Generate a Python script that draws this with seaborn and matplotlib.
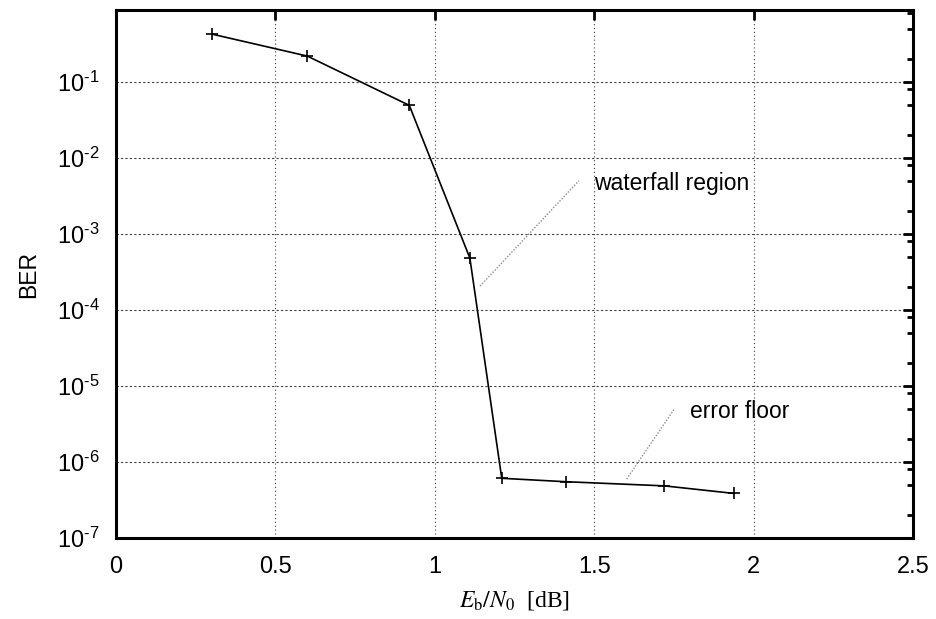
import numpy as np
import pandas as pd
import matplotlib
matplotlib.use("Agg")
from matplotlib import pyplot as plt
from matplotlib.ticker import FixedLocator, NullFormatter
import seaborn as sns

# data
ebn0 = [0.30, 0.60, 0.92, 1.11, 1.21, 1.41, 1.72, 1.94]
ber = [0.425, 0.218, 0.049, 4.8e-4, 6.1e-7, 5.5e-7, 4.85e-7, 3.85e-7]

waterfall_line_x = [1.142, 1.452]
waterfall_line_y = [2.06e-4, 5.0e-3]
floor_line_x = [1.602, 1.753]
floor_line_y = [5.97e-7, 5.1e-6]

dt = pd.DataFrame({"EbN0": ebn0, "BER": ber})

sns.set_style("white")
plt.rcParams["font.family"] = ["Liberation Sans", "DejaVu Sans"]
plt.rcParams["mathtext.fontset"] = "stix"
plt.rcParams["axes.unicode_minus"] = False
plt.rcParams["text.color"] = "black"
plt.rcParams["axes.labelcolor"] = "black"
plt.rcParams["xtick.color"] = "black"
plt.rcParams["ytick.color"] = "black"

fig = plt.figure(figsize=(9.37, 6.19), dpi=100)
ax = fig.add_axes([116 / 937, 81 / 619, 797 / 937, 528 / 619])

sns.lineplot(data=dt, x="EbN0", y="BER", ax=ax, color="black", lw=1.2,
             marker="+", markersize=8, markeredgewidth=1.2, markeredgecolor="black")

ax.set_yscale("log")
ax.set_xlim(0, 2.5)
ax.set_ylim(1e-7, 0.88)
ax.set_xticks([0, 0.5, 1, 1.5, 2, 2.5])
ax.set_xticklabels(["0", "0.5", "1", "1.5", "2", "2.5"])
exps = list(range(-7, 0))
ax.set_yticks([10.0 ** e for e in exps])
# hyphen instead of math minus, like the gnuplot labels
ax.set_yticklabels(["$\\mathdefault{10^{\u2010%d}}$" % (-e) for e in exps])
minor = [m * 10.0 ** e for e in exps for m in (2, 5, 8) if m * 10.0 ** e < 0.88]
ax.yaxis.set_minor_locator(FixedLocator(minor))
ax.yaxis.set_minor_formatter(NullFormatter())

# gnuplot-like grid
for x in [0.5, 1, 1.5, 2]:
    ax.axvline(x, color="0.25", lw=0.8, ls=(0, (1, 2.5)), zorder=0)
for e in range(-6, 0):
    ax.axhline(10.0 ** e, color="0.25", lw=0.8, ls=(0, (2, 2)), zorder=0)

# annotation pointers
ax.plot(waterfall_line_x, waterfall_line_y, color="0.55", lw=1, ls=(0, (1, 1.2)))
ax.plot(floor_line_x, floor_line_y, color="0.55", lw=1, ls=(0, (1, 1.2)))
ax.text(1.5, 3.8e-3, "waterfall region", fontsize=16.5, va="baseline", ha="left")
ax.text(1.8, 3.8e-6, "error floor", fontsize=16.5, va="baseline", ha="left")

for s in ax.spines.values():
    s.set_linewidth(2.2)
    s.set_color("black")
ax.tick_params(which="both", direction="in", top=True, right=True, labelsize=17, color="black")
ax.tick_params(axis="x", which="major", length=7, width=2, pad=13)
ax.tick_params(axis="y", which="major", length=7, width=2, pad=12)
ax.tick_params(which="minor", length=4, width=2)

ax.set_ylabel("BER", fontsize=16.5, labelpad=12)
ax.set_xlabel(r"$E_\mathrm{b}/N_0$  [dB]", fontsize=17, family=["Liberation Serif"], labelpad=8)

fig.savefig("out.png", dpi=100)
